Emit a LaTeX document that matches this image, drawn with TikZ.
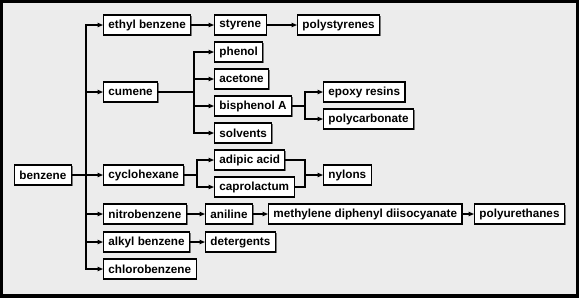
\documentclass[tikz,border=0pt]{standalone}
\usepackage{fontspec}
\setmainfont{Liberation Sans}
\definecolor{ChemBg}{RGB}{236,236,236}
\definecolor{ChemShadow}{RGB}{120,120,120}
\usetikzlibrary{
    arrows.meta,
    positioning,
    shadows,
}

\begin{document}
\begin{tikzpicture}[
    x=0.03cm, y=-0.03cm,
    chem/.style={draw, line width=0.9pt, fill=white, anchor=west, minimum height=0.6cm,
        inner xsep=4.2pt, inner ysep=0pt, font=\fontsize{10}{12}\selectfont\bfseries,
        drop shadow={shadow xshift=1.1pt, shadow yshift=-1.1pt, opacity=1, fill=ChemShadow}},
    link/.style={line width=0.9pt},
    feed/.style={link, -{Triangle[length=4.5pt, width=3.6pt]}}
]
    % frame
    \fill[black] (0,0) rectangle (579,298);
    \fill[ChemBg] (3,3) rectangle (576,294);

    \node[chem] (benz) at (14,175) {benzene};
    \node[chem] (ethyl) at (103,25) {ethyl benzene};
    \node[chem] (styr) at (214,25) {styrene};
    \node[chem] (polys) at (297,25) {polystyrenes};
    \node[chem] (cum) at (103,92) {cumene};
    \node[chem] (phen) at (214,52) {phenol};
    \node[chem] (acet) at (214,79) {acetone};
    \node[chem] (bisA) at (214,106) {bisphenol A};
    \node[chem] (solv) at (214,133) {solvents};
    \node[chem] (epox) at (323,92) {epoxy resins};
    \node[chem] (pcarb) at (323,119) {polycarbonate};
    \node[chem] (cyclo) at (103,175) {cyclohexane};
    \node[chem] (adip) at (214,160) {adipic acid};
    \node[chem] (capro) at (214,187) {caprolactum};
    \node[chem] (nyl) at (323,175) {nylons};
    \node[chem] (nitro) at (103,214) {nitrobenzene};
    \node[chem] (anil) at (205,214) {aniline};
    \node[chem] (mdi) at (268,214) {methylene diphenyl diisocyanate};
    \node[chem] (purt) at (474,214) {polyurethanes};
    \node[chem] (alkyl) at (103,242) {alkyl benzene};
    \node[chem] (deter) at (205,242) {detergents};
    \node[chem] (chlor) at (103,269) {chlorobenzene};

    \coordinate (trunk) at (86,175);
    \coordinate (cumfork) at (194,92);
    \coordinate (bisfork) at (305,106);
    \coordinate (cycfork) at (197,175);
    \coordinate (nyljoin) at (305,175);

    % benzene trunk
    \draw[feed] (benz) -- (cyclo);
    \draw[feed] (trunk) |- (ethyl);
    \draw[feed] (trunk) |- (cum);
    \draw[feed] (trunk) |- (nitro);
    \draw[feed] (trunk) |- (alkyl);
    \draw[feed] (trunk) |- (chlor);

    \draw[feed] (ethyl) -- (styr);
    \draw[feed] (styr) -- (polys);

    % cumene
    \draw[link] (cum) -- (cumfork);
    \draw[feed] (cumfork) |- (phen);
    \draw[feed] (cumfork) |- (acet);
    \draw[feed] (cumfork) |- (bisA);
    \draw[feed] (cumfork) |- (solv);
    \draw[link] (bisA) -- (bisfork);
    \draw[feed] (bisfork) |- (epox);
    \draw[feed] (bisfork) |- (pcarb);

    % cyclohexane
    \draw[link] (cyclo) -- (cycfork);
    \draw[feed] (cycfork) |- (adip);
    \draw[feed] (cycfork) |- (capro);
    \draw[link] (adip) -| (nyljoin);
    \draw[link] (capro) -| (nyljoin);
    \draw[feed] (nyljoin) -- (nyl);

    \draw[feed] (nitro) -- (anil);
    \draw[feed] (anil) -- (mdi);
    \draw[feed] (mdi) -- (purt);
    \draw[feed] (alkyl) -- (deter);
\end{tikzpicture}
\end{document}
